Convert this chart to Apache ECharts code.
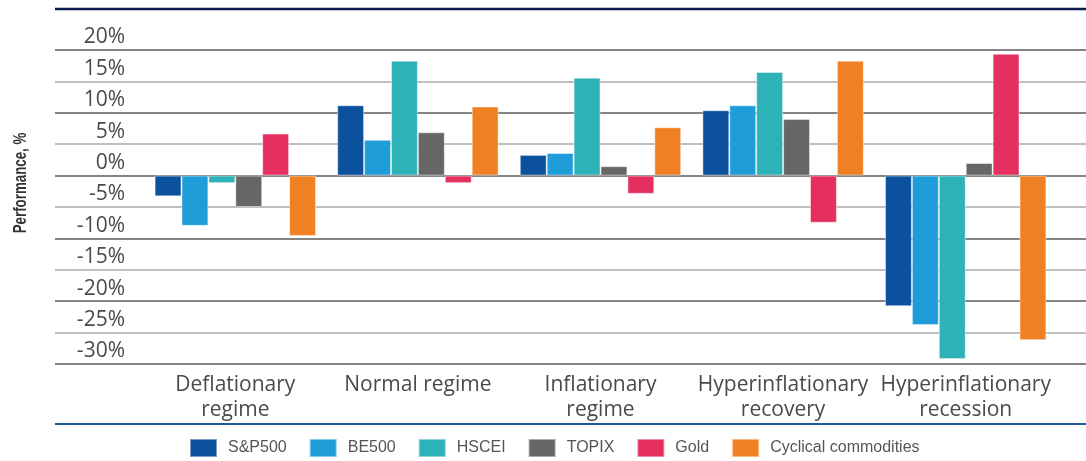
<!DOCTYPE html>
<html>
<head>
<meta charset="utf-8">
<script src="https://cdn.jsdelivr.net/npm/echarts@6/dist/echarts.min.js"></script>
<style>
  html, body { margin: 0; padding: 0; background: #ffffff; }
  #chart { width: 1086px; height: 461px; }
</style>
</head>
<body>
<div id="chart"></div>
<script>
const categories = [
  'Deflationary\nregime',
  'Normal regime',
  'Inflationary\nregime',
  'Hyperinflationary\nrecovery',
  'Hyperinflationary\nrecession'
]

const spx500 = [-3.3, 11.2, 3.3, 10.4, -20.8]
const be500 = [-8.0, 5.7, 3.6, 11.2, -23.8]
const hscei = [-1.2, 18.3, 15.6, 16.5, -29.2]
const topix = [-5.0, 6.9, 1.5, 9.0, 2.0]
const gold = [6.7, -1.2, -2.9, -7.5, 19.4]
const cyclical = [-9.6, 11.0, 7.7, 18.3, -26.2]

const yMin = -30
const yMax = 20
const yStep = 5

const seriesDefs = [
  { name: 'S&P500', data: spx500, color: '#0b519e' },
  { name: 'BE500', data: be500, color: '#1e9dd9' },
  { name: 'HSCEI', data: hscei, color: '#2db2b7' },
  { name: 'TOPIX', data: topix, color: '#666666' },
  { name: 'Gold', data: gold, color: '#e52f5f' },
  { name: 'Cyclical commodities', data: cyclical, color: '#f08024' }
]

const chart = echarts.init(document.getElementById('chart'))

chart.setOption({
  animation: false,
  color: seriesDefs.map((s) => s.color),
  legend: {
    left: 189,
    top: 438,
    padding: 0,
    itemWidth: 27,
    itemHeight: 18,
    itemGap: 22,
    icon: 'rect',
    textStyle: {
      fontFamily: '"Liberation Sans", Arial, sans-serif',
      fontSize: 16,
      color: '#555555',
      padding: [0, 0, 0, 6]
    },
    data: seriesDefs.map((s) => s.name)
  },
  grid: [
    { left: 55, right: 0, top: 50, bottom: 97 },
    { left: 144, right: 29, top: 50, bottom: 97 }
  ],
  xAxis: [
    {
      type: 'category',
      gridIndex: 0,
      data: categories,
      show: false
    },
    {
      type: 'category',
      gridIndex: 1,
      data: categories,
      axisLine: { show: false },
      axisTick: { show: false },
      axisLabel: {
        margin: 9,
        fontFamily: '"Open Sans", sans-serif',
        fontSize: 21,
        lineHeight: 25,
        color: '#4a4a4a',
        interval: 0
      }
    }
  ],
  yAxis: [
    {
      type: 'value',
      gridIndex: 0,
      min: yMin,
      max: yMax,
      interval: yStep,
      axisLine: { show: false },
      axisTick: { show: false },
      axisLabel: {
        inside: true,
        margin: 70,
        align: 'right',
        verticalAlign: 'bottom',
        lineHeight: 25,
        fontFamily: '"Open Sans", sans-serif',
        fontSize: 21,
        color: '#4a4a4a',
        formatter: (v) => v + '%'
      },
      splitLine: {
        lineStyle: { color: ['#5b5b5b', '#a8a8a8'], width: 1.5 }
      }
    },
    {
      type: 'value',
      gridIndex: 1,
      min: yMin,
      max: yMax,
      interval: yStep,
      show: false,
      splitLine: { show: false }
    }
  ],
  graphic: [
    {
      type: 'line',
      shape: { x1: 55, y1: 9, x2: 1086, y2: 9 },
      style: { stroke: '#0c1a4d', lineWidth: 2.5 }
    },
    {
      type: 'line',
      shape: { x1: 55, y1: 424, x2: 1086, y2: 424 },
      style: { stroke: '#1d5a96', lineWidth: 2 }
    },
    {
      type: 'text',
      x: 21,
      y: 183,
      rotation: Math.PI / 2,
      scaleX: 0.7,
      style: {
        text: 'Performance, %',
        fontFamily: '"Liberation Sans", sans-serif',
        fontSize: 19,
        fontWeight: 'bold',
        fill: '#333333',
        align: 'center',
        verticalAlign: 'middle'
      }
    }
  ],
  series: seriesDefs.map((s) => ({
    name: s.name,
    type: 'bar',
    xAxisIndex: 1,
    yAxisIndex: 1,
    data: s.data,
    barGap: '0%',
    barCategoryGap: '11.6%',
    itemStyle: {
      color: s.color,
      borderColor: 'rgba(255,255,255,0.45)',
      borderWidth: 1
    }
  }))
})
</script>
</body>
</html>
